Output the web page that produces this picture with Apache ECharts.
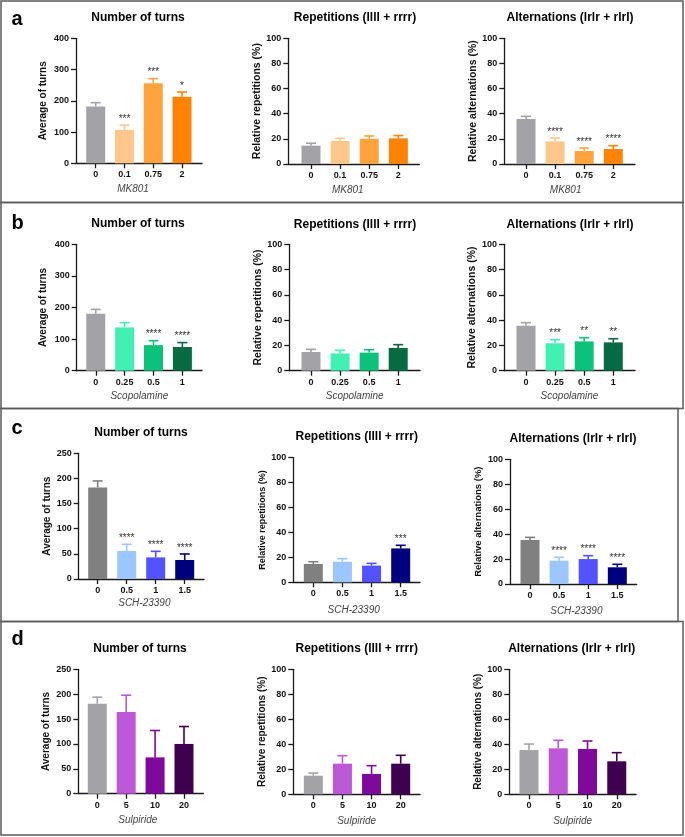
<!DOCTYPE html>
<html><head><meta charset="utf-8">
<script src="https://cdn.jsdelivr.net/npm/echarts@6/dist/echarts.min.js"></script>
<style>html,body{margin:0;padding:0;background:#fff}#c{width:685px;height:837px}</style>
</head><body><div id="c"></div><script>
const FONT = 'Arial, "Liberation Sans", Helvetica, sans-serif';

// ---------- categories ----------
const catsMK801 = ['0', '0.1', '0.75', '2'];
const catsScop = ['0', '0.25', '0.5', '1'];
const catsSCH = ['0', '0.5', '1', '1.5'];
const catsSulp = ['0', '5', '10', '20'];

// ---------- MK801 (a) ----------
const turnsMK801 = [182, 107, 256, 213];
const turnsMK801Sem = [12, 15, 15, 15];
const turnsMK801Sig = ['', '***', '***', '*'];
const repMK801 = [14.6, 18.3, 20.1, 20.4];
const repMK801Sem = [1.9, 2.1, 2.2, 2.2];
const repMK801Sig = ['', '', '', ''];
const altMK801 = [35.8, 18.0, 10.3, 11.9];
const altMK801Sem = [2.1, 2.7, 2.4, 2.7];
const altMK801Sig = ['', '****', '****', '****'];

// ---------- Scopolamine (b) ----------
const turnsScop = [180, 137, 81, 75];
const turnsScopSem = [14, 15, 14, 14];
const turnsScopSig = ['', '', '****', '****'];
const repScop = [14.8, 13.7, 14.3, 18.0];
const repScopSem = [2.1, 2.4, 2.3, 2.6];
const repScopSig = ['', '', '', ''];
const altScop = [35.6, 21.7, 23.2, 22.4];
const altScopSem = [2.4, 2.8, 2.9, 2.9];
const altScopSig = ['', '***', '**', '**'];

// ---------- SCH-23390 (c) ----------
const turnsSCH = [182, 55.7, 43, 37.8];
const turnsSCHSem = [13, 13.3, 12, 12];
const turnsSCHSig = ['', '****', '****', '****'];
const repSCH = [14.7, 16.5, 13.4, 27.2];
const repSCHSem = [1.8, 2.5, 1.8, 2.5];
const repSCHSig = ['', '', '', '***'];
const altSCH = [35.3, 18.7, 20.0, 13.4];
const altSCHSem = [2.1, 2.7, 2.7, 2.4];
const altSCHSig = ['', '****', '****', '****'];

// ---------- Sulpiride (d) ----------
const turnsSulp = [181, 164, 73, 100];
const turnsSulpSem = [13, 34, 54, 35];
const turnsSulpSig = ['', '', '', ''];
const repSulp = [14.9, 24.5, 16.3, 24.5];
const repSulpSem = [2.1, 6.4, 6.6, 6.7];
const repSulpSig = ['', '', '', ''];
const altSulp = [35.4, 36.8, 36.3, 26.4];
const altSulpSem = [4.8, 6.4, 6.3, 6.9];
const altSulpSig = ['', '', '', ''];

// ---------- tick labels ----------
const ticksTurns400 = [0, 100, 200, 300, 400];
const ticksTurns250 = [0, 50, 100, 150, 200, 250];
const ticksPct = [0, 20, 40, 60, 80, 100];

// ---------- colours (style) ----------
const colMK801 = ['#A3A2A7', '#FFC78C', '#FFA33F', '#FF8304'];
const colScop = ['#A3A2A7', '#43F0B3', '#0CC27B', '#076A42'];
const colSCH = ['#808080', '#9BC6FF', '#5252FF', '#00007F'];
const colSulp = ['#A3A2A7', '#BC58D8', '#7D0A9A', '#3F0050'];

const panels = [
  {cats: catsMK801, mean: turnsMK801, sem: turnsMK801Sem, sig: turnsMK801Sig, col: colMK801, ticks: ticksTurns400, title: 'Number of turns', yName: 'Average of turns', xName: 'MK801'},
  {cats: catsMK801, mean: repMK801, sem: repMK801Sem, sig: repMK801Sig, col: colMK801, ticks: ticksPct, title: 'Repetitions (llll + rrrr)', yName: 'Relative repetitions (%)', xName: 'MK801'},
  {cats: catsMK801, mean: altMK801, sem: altMK801Sem, sig: altMK801Sig, col: colMK801, ticks: ticksPct, title: 'Alternations (lrlr + rlrl)', yName: 'Relative alternations (%)', xName: 'MK801'},
  {cats: catsScop, mean: turnsScop, sem: turnsScopSem, sig: turnsScopSig, col: colScop, ticks: ticksTurns400, title: 'Number of turns', yName: 'Average of turns', xName: 'Scopolamine'},
  {cats: catsScop, mean: repScop, sem: repScopSem, sig: repScopSig, col: colScop, ticks: ticksPct, title: 'Repetitions (llll + rrrr)', yName: 'Relative repetitions (%)', xName: 'Scopolamine'},
  {cats: catsScop, mean: altScop, sem: altScopSem, sig: altScopSig, col: colScop, ticks: ticksPct, title: 'Alternations (lrlr + rlrl)', yName: 'Relative alternations (%)', xName: 'Scopolamine'},
  {cats: catsSCH, mean: turnsSCH, sem: turnsSCHSem, sig: turnsSCHSig, col: colSCH, ticks: ticksTurns250, title: 'Number of turns', yName: 'Average of turns', xName: 'SCH-23390'},
  {cats: catsSCH, mean: repSCH, sem: repSCHSem, sig: repSCHSig, col: colSCH, ticks: ticksPct, title: 'Repetitions (llll + rrrr)', yName: 'Relative repetitions (%)', xName: 'SCH-23390'},
  {cats: catsSCH, mean: altSCH, sem: altSCHSem, sig: altSCHSig, col: colSCH, ticks: ticksPct, title: 'Alternations (lrlr + rlrl)', yName: 'Relative alternations (%)', xName: 'SCH-23390'},
  {cats: catsSulp, mean: turnsSulp, sem: turnsSulpSem, sig: turnsSulpSig, col: colSulp, ticks: ticksTurns250, title: 'Number of turns', yName: 'Average of turns', xName: 'Sulpiride'},
  {cats: catsSulp, mean: repSulp, sem: repSulpSem, sig: repSulpSig, col: colSulp, ticks: ticksPct, title: 'Repetitions (llll + rrrr)', yName: 'Relative repetitions (%)', xName: 'Sulpiride'},
  {cats: catsSulp, mean: altSulp, sem: altSulpSem, sig: altSulpSig, col: colSulp, ticks: ticksPct, title: 'Alternations (lrlr + rlrl)', yName: 'Relative alternations (%)', xName: 'Sulpiride'}
];

// ---------- layout (style only) ----------
const layout = [
  {g: [76, 38.3, 126, 125], xr: [-0.685, 3.695], yg: 28, ys: 10, xg: 21, xdx: -6, t: [138, 17.5]},
  {g: [288.3, 38.3, 131, 125.7], xr: [-0.78, 3.72], yg: 23, ys: 10.5, xg: 21, xdx: -6, t: [355, 17.5]},
  {g: [504.3, 38.3, 130.7, 125.7], xr: [-0.746, 3.746], yg: 23.5, ys: 10.5, xg: 21, xdx: -4, t: [570, 17.5]},
  {g: [76.7, 244.3, 125.3, 126.4], xr: [-0.66, 3.68], yg: 28.4, ys: 10, xg: 21, xdx: 0, t: [138, 224]},
  {g: [289.3, 244.3, 130.7, 126.4], xr: [-0.746, 3.75], yg: 24, ys: 10.5, xg: 21, xdx: 0, t: [355, 224.8]},
  {g: [504, 244.3, 131, 126.4], xr: [-0.756, 3.746], yg: 23.3, ys: 10.5, xg: 21, xdx: 0, t: [570, 224.5]},
  {g: [78.7, 453.3, 125.3, 125.7], xr: [-0.655, 3.665], yg: 26, ys: 10, xg: 19.5, xdx: 3, t: [141, 433]},
  {g: [293.3, 457.7, 126.7, 124.6], xr: [-0.687, 3.663], yg: 26.5, ys: 9, xg: 22.5, xdx: -3, t: [356.7, 436.5]},
  {g: [510, 459.3, 126.7, 124.7], xr: [-0.687, 3.666], yg: 26.5, ys: 9.5, xg: 22, xdx: 3, t: [573, 439]},
  {g: [78.3, 669.3, 125, 124.4], xr: [-0.657, 3.668], yg: 26.6, ys: 10, xg: 21.3, xdx: -3, t: [140, 649]},
  {g: [293.3, 669.3, 126.7, 125], xr: [-0.687, 3.663], yg: 26, ys: 10, xg: 22.4, xdx: 0, t: [356.7, 649]},
  {g: [509.3, 669.3, 126.7, 125], xr: [-0.674, 3.658], yg: 26, ys: 10, xg: 22.4, xdx: 0, t: [571.7, 649]}
];

const letters = [['a', 19], ['b', 223], ['c', 428], ['d', 639]];
const rowBoxes = [[1, 1, 682, 201.5], [1, 202.5, 682, 206], [1, 408.5, 677, 213], [1, 621.5, 682, 213.5]];

const grid = [], xAxis = [], yAxis = [], series = [], graphic = [];

rowBoxes.forEach(r => graphic.push({type: 'rect', shape: {x: r[0], y: r[1], width: r[2], height: r[3]}, style: {fill: 'none', stroke: '#5a5a5a', lineWidth: 1.5}, silent: true}));
letters.forEach(([l, y]) => graphic.push({type: 'text', x: 11.5, y: y, style: {text: l, font: 'bold 20px ' + FONT, fill: '#000', align: 'left', verticalAlign: 'middle'}, silent: true}));

panels.forEach((p, i) => {
  const L = layout[i];
  grid.push({left: L.g[0], top: L.g[1], width: L.g[2], height: L.g[3], containLabel: false});
  const idx = p.cats.map((c, k) => k);
  xAxis.push({
    gridIndex: i, type: 'value', min: L.xr[0], max: L.xr[1],
    axisLine: {show: true, onZero: false, lineStyle: {color: '#1a1a1a', width: 1.3}},
    axisTick: {show: true, customValues: idx, length: 5, lineStyle: {color: '#1a1a1a', width: 1.3}},
    axisLabel: {customValues: idx, margin: 7, fontFamily: FONT, fontSize: 9, fontWeight: 'bold', color: '#111',
      formatter: v => p.cats[Math.round(v)]},
    splitLine: {show: false},
    name: p.xName, nameLocation: 'middle', nameGap: L.xg,
    nameTextStyle: {fontFamily: FONT, fontSize: 10, fontStyle: 'italic', color: '#444',
      padding: L.xdx < 0 ? [0, -2 * L.xdx, 0, 0] : [0, 0, 0, 2 * L.xdx]}
  });
  const yMax = p.ticks[p.ticks.length - 1];
  yAxis.push({
    gridIndex: i, type: 'value', min: 0, max: yMax, interval: p.ticks[1] - p.ticks[0],
    axisLine: {show: true, onZero: false, lineStyle: {color: '#1a1a1a', width: 1.3}},
    axisTick: {show: true, length: 5, lineStyle: {color: '#1a1a1a', width: 1.3}},
    axisLabel: {margin: 7, fontFamily: FONT, fontSize: 9, fontWeight: 'bold', color: '#111'},
    splitLine: {show: false},
    name: p.yName, nameLocation: 'middle', nameGap: L.yg, nameRotate: 90,
    nameTextStyle: {fontFamily: FONT, fontSize: L.ys, fontWeight: 'bold', color: '#111'}
  });
  series.push({
    type: 'bar', xAxisIndex: i, yAxisIndex: i, barWidth: 19,
    data: p.mean.map((m, k) => ({value: [k, m], itemStyle: {color: p.col[k]}})),
    animation: false
  });
  series.push({
    type: 'custom', xAxisIndex: i, yAxisIndex: i, animation: false, z: 3,
    data: p.mean.map((m, k) => ({value: [k, m, p.sem[k]], itemStyle: {color: p.col[k]}})),
    renderItem: (params, api) => {
      const x = api.value(0), m = api.value(1), e = api.value(2);
      const b = api.coord([x, m]);
      const t = api.coord([x, m + e]);
      const c = api.visual('color');
      const s = p.sig[params.dataIndex];
      const ch = [
        {type: 'line', shape: {x1: b[0], y1: b[1], x2: t[0], y2: t[1]}, style: {stroke: c, lineWidth: 1.6}},
        {type: 'line', shape: {x1: t[0] - 5, y1: t[1], x2: t[0] + 5, y2: t[1]}, style: {stroke: c, lineWidth: 1.6}}
      ];
      if (s) ch.push({type: 'text', x: t[0], y: t[1] - 1, style: {text: s, font: '10px ' + FONT, fill: '#333', align: 'center', verticalAlign: 'bottom'}});
      return {type: 'group', children: ch};
    }
  });
  graphic.push({type: 'text', x: L.t[0], y: L.t[1], style: {text: p.title, font: 'bold 12px ' + FONT, fill: '#000', align: 'center', verticalAlign: 'middle'}, silent: true});
});

const chart = echarts.init(document.getElementById('c'), null, {renderer: 'canvas'});
chart.setOption({animation: false, backgroundColor: '#fff', grid, xAxis, yAxis, series, graphic});
</script></body></html>
